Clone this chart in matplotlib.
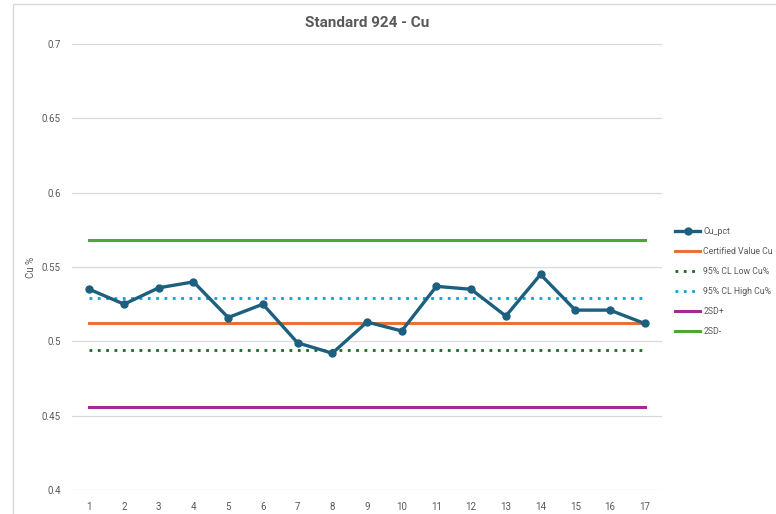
import matplotlib
matplotlib.use("Agg")
import matplotlib.pyplot as plt
from matplotlib.patches import Rectangle

plt.rcParams['font.family'] = ['Roboto', 'DejaVu Sans']

samples = list(range(1, 18))
cu_pct = [0.535, 0.525, 0.536, 0.540, 0.516, 0.525, 0.499, 0.492, 0.513,
          0.507, 0.537, 0.535, 0.517, 0.545, 0.521, 0.521, 0.512]
certified = 0.512
cl_low = 0.494
cl_high = 0.529
sd_plus = 0.456
sd_minus = 0.568
y_ticks = [0.4, 0.45, 0.5, 0.55, 0.6, 0.65, 0.7]
y_tick_labels = ['0.4', '0.45', '0.5', '0.55', '0.6', '0.65', '0.7']

W, H = 776, 514
fig = plt.figure(figsize=(W / 100, H / 100), dpi=100)
ax = fig.add_axes([72 / W, 1 - 490 / H, (662 - 72) / W, (490 - 44) / H])

fig.patches.append(Rectangle((13 / W, -0.1), 1.2, 1 - 4 / H + 0.1, transform=fig.transFigure,
                             fill=False, edgecolor='#d9d9d9', linewidth=1.0))

n = len(samples)
ax.plot(samples, [certified] * n, color='#E97132', lw=2.2, label='Certified Value Cu', zorder=2)
ax.plot(samples, [cl_low] * n, color='#196B24', lw=2.0, ls=(0, (1, 2)), label='95% CL Low Cu%', zorder=2)
ax.plot(samples, [cl_high] * n, color='#0F9ED5', lw=2.0, ls=(0, (1, 2)), label='95% CL High Cu%', zorder=2)
ax.plot(samples, [sd_plus] * n, color='#A02B93', lw=2.2, label='2SD+', zorder=2)
ax.plot(samples, [sd_minus] * n, color='#4EA72E', lw=2.2, label='2SD-', zorder=2)
ax.plot(samples, cu_pct, color='#1C5F7E', lw=2.4, marker='o', ms=5, label='Cu_pct', zorder=3)

ax.set_xlim(0.5, 17.5)
ax.set_ylim(0.4, 0.7)
ax.set_yticks(y_ticks)
ax.set_yticklabels(y_tick_labels)
ax.set_xticks(samples)
ax.set_xticklabels([str(s) for s in samples])
ax.grid(axis='y', color='#d9d9d9', lw=0.9)
ax.set_axisbelow(True)
for s in ax.spines.values():
    s.set_visible(False)
ax.tick_params(length=0, labelsize=7, colors='#595959')
ax.tick_params(axis='x', pad=9)
ax.tick_params(axis='y', pad=8)
ax.set_ylabel('Cu %', fontsize=7, color='#595959')
ax.yaxis.set_label_coords(-(72 - 36) / (662 - 72), 0.5)
ax.set_title('Standard 924 - Cu', fontsize=11, fontweight='bold', color='#595959', pad=12)

handles, labels = ax.get_legend_handles_labels()
order = [5, 0, 1, 2, 3, 4]
fig.legend([handles[i] for i in order], [labels[i] for i in order],
           loc='upper left', bbox_to_anchor=(667 / W, 1 - 219 / H),
           frameon=False, fontsize=6.3, labelcolor='#595959',
           handlelength=2.9, handletextpad=0.35, labelspacing=1.25)

fig.savefig('out.png', dpi=100, facecolor='white')
